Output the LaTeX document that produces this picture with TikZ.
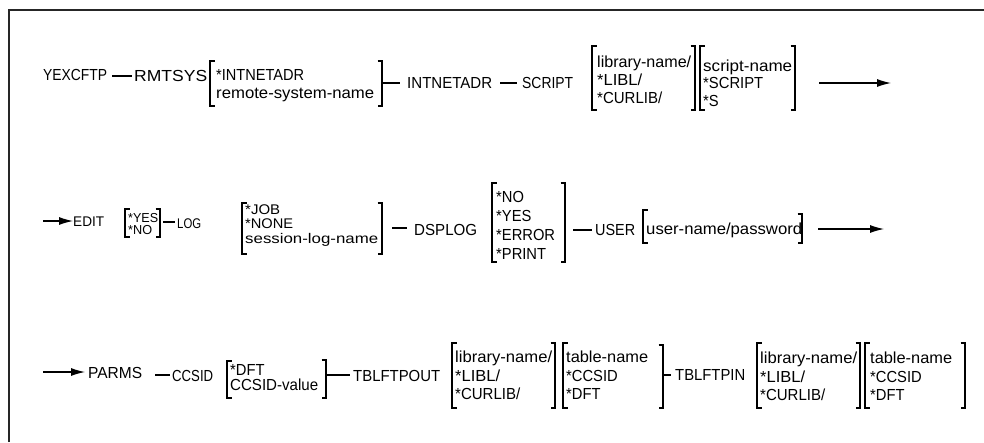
\documentclass[tikz,border=0pt]{standalone}
\usepackage{fontspec}
\usepackage{graphicx}
\setmainfont{Liberation Sans}
\newfontfamily\cf[FakeStretch=0.92]{Liberation Sans}
\usetikzlibrary{arrows.meta}
\newcommand\lbr[3]{\draw[br] (#1+4.5,#2) -- (#1,#2) -- (#1,#3) -- (#1+4.5,#3);}
\newcommand\rbr[3]{\draw[br] (#1-4.5,#2) -- (#1,#2) -- (#1,#3) -- (#1-4.5,#3);}
\newcommand\fw[2]{\resizebox{#1pt}{\height}{#2}}
\tikzset{
  kw/.style={anchor=base west, inner sep=0pt, font=\fontsize{16}{18}\selectfont},
  op/.style={anchor=base west, inner sep=0pt, font=\cf\fontsize{16}{18}\selectfont},
  lc/.style={anchor=base west, inner sep=0pt, font=\fontsize{16}{18}\selectfont},
  br/.style={line width=1.1pt},
  ln/.style={line width=1.1pt},
  arr/.style={line width=1.1pt, -{Latex[length=14pt,width=8pt]}},
}
\begin{document}
\begin{tikzpicture}[x=1pt,y=-1pt]
\useasboundingbox (0,0) rectangle (984,442);
\draw[line width=2pt, black!85] (8.5,442) -- (8.5,10) -- (984,10);
% Row 1
\node[kw] (yex) at (43,80) {\fw{64}{YEXCFTP}};
\draw[ln] (112,76) -- (132,76);
\node[kw] (rmtsys) at (134,81) {\fw{73}{RMTSYS}};
\lbr{210}{61}{106}
\node[op] (r1a) at (216,80) {\fw{88}{*INTNETADR}};
\node[lc] (r1b) at (216,98) {\fw{158}{remote-system-name}};
\rbr{382}{61}{106}
\draw[ln] (382,83) -- (400,83);
\node[kw] (intnet) at (407,88) {\fw{85}{INTNETADR}};
\draw[ln] (500,83) -- (517,83);
\node[kw] (script) at (522,88) {\fw{51}{SCRIPT}};
\lbr{592}{46}{110}
\node[lc] (s1a) at (597,67) {\fw{94}{library-name/}};
\node[op] (s1b) at (597,85) {\fw{45}{*LIBL/}};
\node[op] (s1c) at (597,103) {\fw{65}{*CURLIB/}};
\rbr{695}{46}{110}
\lbr{700}{46}{110}
\node[lc] (s2a) at (703,71) {\fw{89}{script-name}};
\node[op] (s2b) at (703,88) {\fw{60}{*SCRIPT}};
\node[op] (s2c) at (703,106) {*S};
\rbr{795}{46}{110}
\coordinate (a1s) at (819,83);
\coordinate (a1e) at (891,83);
\draw[arr] (a1s) -- (a1e);
% Row 2
\coordinate (a2s) at (43,221);
\node[kw] (edit) at (73,226) {\fw{31}{\fontsize{14}{16}\selectfont EDIT}};
\draw[arr] (a2s) -- (edit.west|-a2s);
\lbr{125}{209}{237}
\node[kw] (e1) at (128,222) {\fw{30}{\fontsize{13}{14}\selectfont *YES}};
\node[kw] (e2) at (128,234) {\fw{24}{\fontsize{13}{14}\selectfont *NO}};
\rbr{160}{209}{237}
\draw[ln] (163,222) -- (175,222);
\node[kw] (log) at (177,228) {\fw{24}{\fontsize{14}{16}\selectfont LOG}};
\lbr{242}{203}{254}
\node[kw] (l1) at (245,214) {\fw{35}{\fontsize{14}{15}\selectfont *JOB}};
\node[kw] (l2) at (245,228) {\fw{48}{\fontsize{14}{15}\selectfont *NONE}};
\node[kw] (l3) at (245,243) {\fw{133}{\fontsize{14}{15}\selectfont session-log-name}};
\rbr{382}{203}{254}
\draw[ln] (392,228) -- (407,228);
\node[kw] (dsplog) at (414,235) {\fw{63}{DSPLOG}};
\lbr{492}{183}{262}
\node[op] (d1) at (496,202) {*NO};
\node[op] (d2) at (496,221) {*YES};
\node[op] (d3) at (496,240) {*ERROR};
\node[op] (d4) at (496,259) {*PRINT};
\rbr{565}{183}{262}
\draw[ln] (573,230) -- (592,230);
\node[kw] (user) at (595,235) {\fw{40}{USER}};
\lbr{643}{210}{243}
\node[lc] (u1) at (646,234) {\fw{156}{user-name/password}};
\rbr{802}{214}{243}
\coordinate (a3s) at (818,229);
\coordinate (a3e) at (884,229);
\draw[arr] (a3s) -- (a3e);
% Row 3
\coordinate (a4s) at (43,372);
\coordinate (a4e) at (85,372);
\draw[arr] (a4s) -- (a4e);
\node[kw] (parms) at (88,378) {\fw{54}{PARMS}};
\draw[ln] (155,375) -- (170,375);
\node[kw] (ccsid) at (172,381) {\fw{41}{CCSID}};
\lbr{227}{361}{398}
\node[op] (c1) at (230,375) {*DFT};
\node[lc] (c2) at (230,390) {\fw{88}{CCSID-value}};
\rbr{326}{360}{398}
\draw[ln] (326,375) -- (350,375);
\node[kw] (tout) at (353,381) {\fw{87}{TBLFTPOUT}};
\lbr{452}{343}{408}
\node[lc] (o1a) at (455,362) {\fw{97}{library-name/}};
\node[op] (o1b) at (455,381) {\fw{45}{*LIBL/}};
\node[op] (o1c) at (455,399) {\fw{65}{*CURLIB/}};
\rbr{555}{343}{408}
\lbr{563}{343}{408}
\node[lc] (o2a) at (566,362) {\fw{82}{table-name}};
\node[op] (o2b) at (566,381) {*CCSID};
\node[op] (o2c) at (566,399) {*DFT};
\rbr{663}{345}{408}
\draw[ln] (663,375) -- (671,375);
\node[kw] (tin) at (675,380) {\fw{70}{TBLFTPIN}};
\lbr{757}{343}{408}
\node[lc] (i1a) at (760,363) {\fw{97}{library-name/}};
\node[op] (i1b) at (760,382) {\fw{45}{*LIBL/}};
\node[op] (i1c) at (760,400) {\fw{65}{*CURLIB/}};
\rbr{860}{343}{408}
\lbr{865}{343}{408}
\node[lc] (i2a) at (870,363) {\fw{82}{table-name}};
\node[op] (i2b) at (870,382) {*CCSID};
\node[op] (i2c) at (870,400) {*DFT};
\rbr{965}{343}{408}
\end{tikzpicture}
\end{document}
